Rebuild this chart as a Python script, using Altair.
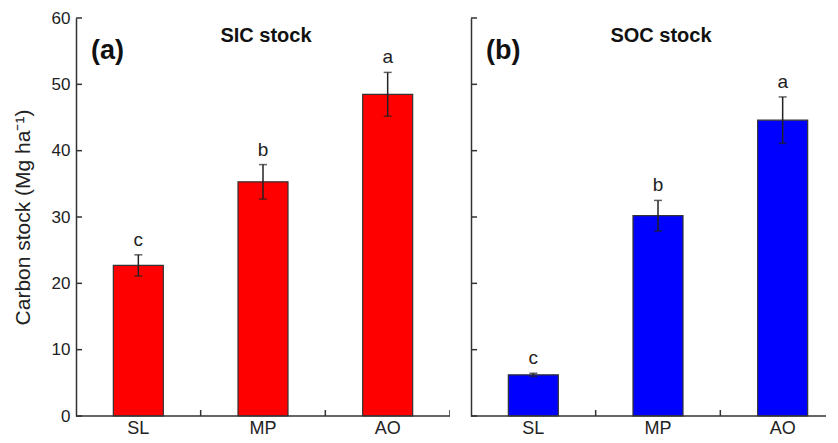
import altair as alt
import pandas as pd

categories = ["SL", "MP", "AO"]
sic_values = [22.7, 35.3, 48.5]
sic_errors = [1.6, 2.6, 3.3]
sic_letters = ["c", "b", "a"]
soc_values = [6.2, 30.2, 44.6]
soc_errors = [0.25, 2.3, 3.5]
soc_letters = ["c", "b", "a"]
y_ticks = [0, 10, 20, 30, 40, 50, 60]

FONT = "Liberation Sans"
H = 398
BAND_RANGE = 374


def panel(values, errors, letters, color, title, tag, width, show_y):
    df = pd.DataFrame({
        "cat": categories,
        "v": values,
        "lo": [v - e for v, e in zip(values, errors)],
        "hi": [v + e for v, e in zip(values, errors)],
        "lab": letters,
    })
    ticks_df = pd.DataFrame({"t": y_ticks})
    xs = alt.Scale(domain=categories, range=[0, BAND_RANGE], paddingInner=0, paddingOuter=0)
    ys = alt.Scale(domain=[0, 60], nice=False, zero=True)
    if show_y:
        yaxis = alt.Axis(values=y_ticks, ticks=False, labelFont=FONT, labelFontSize=17,
                         labelColor="#222", labelPadding=6, domainColor="#333", domainWidth=1.5,
                         grid=False, title="Carbon stock (Mg ha\u207b\u00b9)", titleFont=FONT,
                         titleFontSize=21, titleFontWeight="normal", titleColor="#222",
                         titlePadding=18)
    else:
        yaxis = alt.Axis(values=y_ticks, ticks=False, labels=False, domainColor="#333",
                         domainWidth=1.5, grid=False, title=None)
    base = alt.Chart(df)
    bars = base.mark_bar(width=50, color=color, stroke="#333", strokeWidth=1.2).encode(
        x=alt.X("cat:N", scale=xs, axis=None, sort=categories),
        y=alt.Y("v:Q", scale=ys, axis=yaxis),
    )
    err = base.mark_rule(color="#222", strokeWidth=1.5).encode(
        x=alt.X("cat:N", scale=xs, sort=categories), y=alt.Y("lo:Q", scale=ys), y2="hi:Q")
    cap_hi = base.mark_tick(color="#222", size=8, thickness=1.5, orient="horizontal").encode(
        x=alt.X("cat:N", scale=xs, sort=categories), y=alt.Y("hi:Q", scale=ys))
    cap_lo = base.mark_tick(color="#222", size=8, thickness=1.5, orient="horizontal").encode(
        x=alt.X("cat:N", scale=xs, sort=categories), y=alt.Y("lo:Q", scale=ys))
    letters_t = base.mark_text(font=FONT, fontSize=19, color="#222", dy=-15).encode(
        x=alt.X("cat:N", scale=xs, sort=categories), y=alt.Y("hi:Q", scale=ys), text="lab:N")
    cat_labels = base.mark_text(font=FONT, fontSize=18, color="#222", baseline="top").encode(
        x=alt.X("cat:N", scale=xs, sort=categories), y=alt.value(H + 4), text="cat:N")
    yt = alt.Chart(ticks_df).mark_rule(color="#333", strokeWidth=1.5).encode(
        y=alt.Y("t:Q", scale=ys), x=alt.value(0), x2=alt.value(6))
    xt = base.mark_rule(color="#333", strokeWidth=1.5, clip=True).encode(
        x=alt.X("cat:N", scale=xs, sort=categories, bandPosition=1),
        y=alt.value(H), y2=alt.value(H - 6))
    base_line = alt.Chart(pd.DataFrame({"t": [0]})).mark_rule(color="#333", strokeWidth=1.5).encode(
        y=alt.Y("t:Q", scale=ys), x=alt.value(0), x2=alt.value(width))
    ttl = alt.Chart(pd.DataFrame({"s": [title]})).mark_text(
        font=FONT, fontSize=20, fontWeight="bold", color="#111").encode(
        x=alt.value(BAND_RANGE / 2 + 3), y=alt.value(18), text="s:N")
    tg = alt.Chart(pd.DataFrame({"s": [tag]})).mark_text(
        font=FONT, fontSize=27, fontWeight="bold", color="#111", align="left").encode(
        x=alt.value(15), y=alt.value(33), text="s:N")
    return alt.layer(bars, err, cap_hi, cap_lo, letters_t, cat_labels, yt, xt, base_line,
                     ttl, tg).properties(width=width, height=H)


a = panel(sic_values, sic_errors, sic_letters, "#ff0000", "SIC stock", "(a)", 374, True)
b = panel(soc_values, soc_errors, soc_letters, "#0000ff", "SOC stock", "(b)", 355, False)

chart = alt.hconcat(a, b, spacing=19).properties(
    padding={"top": 1, "left": 4, "right": 0, "bottom": 0},
    background="white",
).configure_view(strokeWidth=0)

chart.save("out.html", embed_options={"renderer": "svg", "actions": False})
